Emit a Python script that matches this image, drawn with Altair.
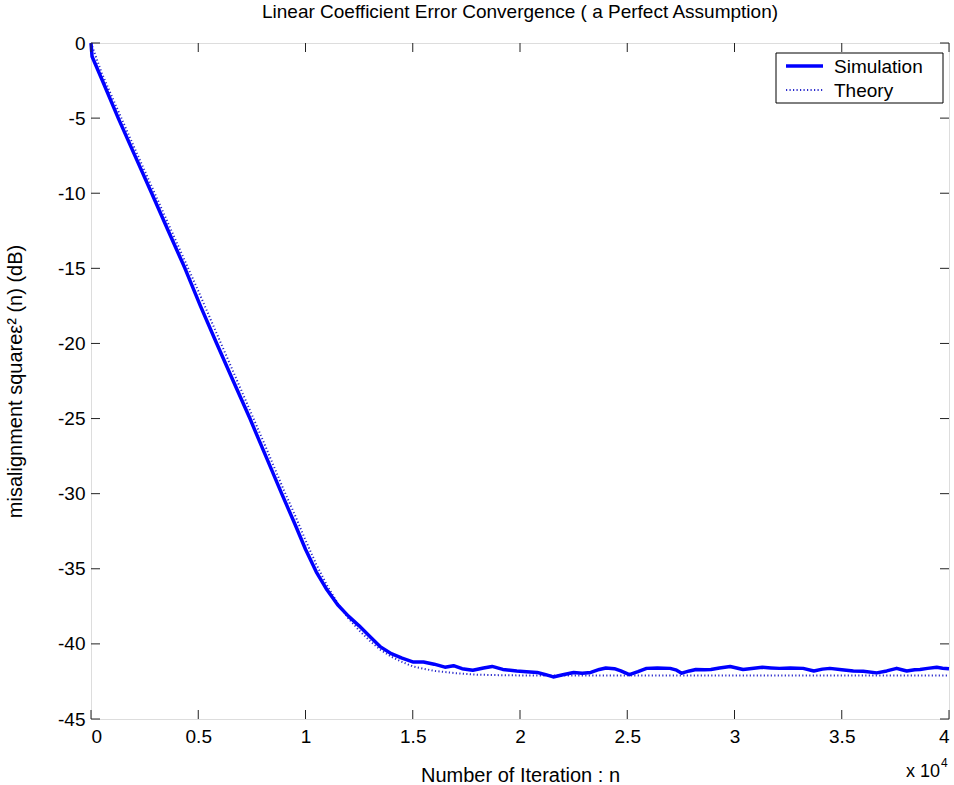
import altair as alt
import pandas as pd

# ---- data (n in units of 1e4, error in dB) ----
SIM_N = [0, 0.005, 0.05, 0.127, 0.2, 0.283, 0.36, 0.438, 0.51, 0.586, 0.66, 0.741,
         0.815, 0.889, 0.95, 1.0, 1.05, 1.1, 1.15, 1.2, 1.25, 1.3, 1.35, 1.4, 1.45,
         1.5, 1.55, 1.6, 1.65, 1.69, 1.73, 1.78, 1.83, 1.87, 1.92, 1.985, 2.03, 2.08,
         2.12, 2.155, 2.2, 2.25, 2.29, 2.33, 2.37, 2.40, 2.44, 2.47, 2.51, 2.55, 2.59,
         2.64, 2.70, 2.73, 2.754, 2.79, 2.82, 2.86, 2.89, 2.93, 2.98, 3.01, 3.04, 3.09,
         3.13, 3.17, 3.21, 3.26, 3.32, 3.37, 3.41, 3.445, 3.5, 3.554, 3.6, 3.663, 3.71,
         3.756, 3.78, 3.803, 3.84, 3.865, 3.9, 3.943, 3.97, 4.0]
SIM_DB = [0, -0.9, -2.4, -5.0, -7.35, -10.0, -12.5, -15.0, -17.5, -20.0, -22.4, -25.0,
          -27.5, -30.0, -32.0, -33.7, -35.2, -36.4, -37.4, -38.15, -38.8, -39.5, -40.2,
          -40.65, -40.95, -41.2, -41.2, -41.35, -41.55, -41.45, -41.65, -41.75, -41.6,
          -41.5, -41.7, -41.8, -41.85, -41.9, -42.05, -42.2, -42.05, -41.9, -41.95,
          -41.9, -41.7, -41.6, -41.65, -41.8, -42.05, -41.85, -41.63, -41.6, -41.63,
          -41.75, -41.95, -41.8, -41.7, -41.72, -41.7, -41.6, -41.5, -41.6, -41.7,
          -41.62, -41.56, -41.6, -41.63, -41.6, -41.63, -41.8, -41.68, -41.63, -41.72,
          -41.8, -41.82, -41.93, -41.8, -41.63, -41.72, -41.8, -41.72, -41.7, -41.63,
          -41.56, -41.62, -41.65]

THEORY_N = [0, 0.05, 0.1, 0.2, 0.3, 0.4, 0.5, 0.6, 0.7, 0.8, 0.9, 0.95, 1.0, 1.05,
            1.1, 1.15, 1.2, 1.25, 1.3, 1.35, 1.4, 1.45, 1.5, 1.6, 1.7, 1.8, 1.9, 2.0, 4.0]
THEORY_DB = [0, -2.0, -3.65, -6.9, -10.1, -13.3, -16.5, -19.8, -23.1, -26.4, -29.8,
             -31.4, -33.1, -34.7, -36.1, -37.3, -38.3, -39.1, -39.8, -40.4, -40.85,
             -41.2, -41.5, -41.8, -41.95, -42.05, -42.08, -42.1, -42.1]

SERIES = ["Simulation", "Theory"]
XTICKS = [0, 0.5, 1, 1.5, 2, 2.5, 3, 3.5, 4]
YTICKS = [0, -5, -10, -15, -20, -25, -30, -35, -40, -45]

TITLE = "Linear Coefficient Error Convergence ( a Perfect Assumption)"
XTITLE = "Number of Iteration : n"
YTITLE = "misalignment squareε² (n) (dB)"

# ---- layout ----
W, H = 858, 676
FONT = "Liberation Sans"
TL = 9  # inward tick length
SIM_COLOR = "#0000ff"
TH_COLOR = "#2a2acc"
SIM_W = 3.5
TH_W = 2
TH_DASH = [1.2, 2.3]

sim_df = pd.DataFrame({"n": SIM_N, "db": SIM_DB})
th_df = pd.DataFrame({"n": THEORY_N, "db": THEORY_DB})

xscale = alt.Scale(domain=[0, 4], nice=False, zero=False)
yscale = alt.Scale(domain=[-45, 0], nice=False, zero=False)

xaxis = alt.Axis(values=XTICKS, labelExpr="datum.value + ''", title=XTITLE, grid=False,
                 ticks=False, domain=False, labelPadding=8,
                 labelFontSize=19, labelFont=FONT, labelColor="black",
                 titleFont=FONT, titleFontSize=20, titleFontWeight="normal",
                 titleColor="black", titleY=62, titleBaseline="alphabetic")
yaxis = alt.Axis(values=YTICKS, labelExpr="datum.value + ''", title=YTITLE, grid=False,
                 ticks=False, domain=False, labelPadding=6,
                 labelFontSize=19, labelFont=FONT, labelColor="black",
                 titleFont=FONT, titleFontSize=20, titleFontWeight="normal",
                 titleColor="black", titleX=-70, titleBaseline="alphabetic")

theory = alt.Chart(th_df).mark_line(color=TH_COLOR, strokeWidth=TH_W,
                                    strokeDash=TH_DASH, strokeCap="butt").encode(
    x=alt.X("n:Q", scale=xscale, axis=xaxis),
    y=alt.Y("db:Q", scale=yscale, axis=yaxis),
)
sim = alt.Chart(sim_df).mark_line(color=SIM_COLOR, strokeWidth=SIM_W,
                                  strokeJoin="round").encode(
    x=alt.X("n:Q", scale=xscale),
    y=alt.Y("db:Q", scale=yscale),
)

xt = pd.DataFrame({"v": XTICKS})
yt = pd.DataFrame({"v": YTICKS})
tick_color = "#222222"

bottom_ticks = alt.Chart(xt).mark_rule(color=tick_color, strokeWidth=1).encode(
    x=alt.X("v:Q", scale=xscale), y=alt.value(H), y2=alt.value(H - TL))
top_ticks = alt.Chart(xt).mark_rule(color=tick_color, strokeWidth=1).encode(
    x=alt.X("v:Q", scale=xscale), y=alt.value(0), y2=alt.value(TL))
left_ticks = alt.Chart(yt).mark_rule(color=tick_color, strokeWidth=1).encode(
    y=alt.Y("v:Q", scale=yscale), x=alt.value(0), x2=alt.value(TL))
right_ticks = alt.Chart(yt).mark_rule(color=tick_color, strokeWidth=1).encode(
    y=alt.Y("v:Q", scale=yscale), x=alt.value(W), x2=alt.value(W - TL))

exp_df = pd.DataFrame({"v": [4]})
exp_base = alt.Chart(exp_df).mark_text(font=FONT, fontSize=18, color="black",
                                       align="right", baseline="alphabetic", dx=-9).encode(
    x=alt.X("v:Q", scale=xscale), y=alt.value(H + 58), text=alt.value("x 10"))
exp_sup = alt.Chart(exp_df).mark_text(font=FONT, fontSize=12, color="black",
                                      align="left", baseline="alphabetic", dx=-8).encode(
    x=alt.X("v:Q", scale=xscale), y=alt.value(H + 48), text=alt.value("4"))

one = pd.DataFrame({"k": [0]})

# ---- chart title as a text mark above the plot area ----
title_mark = alt.Chart(one).mark_text(font=FONT, fontSize=19, color="black",
                                      align="center", baseline="alphabetic").encode(
    x=alt.value(W / 2), y=alt.value(-25), text=alt.value(TITLE))

# ---- legend box (drawn as marks, top-right inside the plot) ----
LX0, LX1, LY0, LY1 = 685, 852, 10, 60
SYM_X0, SYM_X1, TXT_X = 695, 732, 743
ROW_Y = [23, 47]
leg_box = alt.Chart(one).mark_rect(fill="white", stroke="black", strokeWidth=1).encode(
    x=alt.value(LX0), x2=alt.value(LX1), y=alt.value(LY0), y2=alt.value(LY1))
leg_sim_line = alt.Chart(one).mark_rule(color=SIM_COLOR, strokeWidth=SIM_W).encode(
    x=alt.value(SYM_X0), x2=alt.value(SYM_X1), y=alt.value(ROW_Y[0]))
leg_th_line = alt.Chart(one).mark_rule(color=TH_COLOR, strokeWidth=TH_W,
                                       strokeDash=TH_DASH).encode(
    x=alt.value(SYM_X0), x2=alt.value(SYM_X1), y=alt.value(ROW_Y[1]))
leg_sim_txt = alt.Chart(one).mark_text(font=FONT, fontSize=19, color="black",
                                       align="left", baseline="middle").encode(
    x=alt.value(TXT_X), y=alt.value(ROW_Y[0] + 1), text=alt.value(SERIES[0]))
leg_th_txt = alt.Chart(one).mark_text(font=FONT, fontSize=19, color="black",
                                      align="left", baseline="middle").encode(
    x=alt.value(TXT_X), y=alt.value(ROW_Y[1] + 1), text=alt.value(SERIES[1]))

chart = alt.layer(theory, sim, bottom_ticks, top_ticks, left_ticks, right_ticks,
                  exp_base, exp_sup, title_mark, leg_box, leg_sim_line, leg_th_line,
                  leg_sim_txt, leg_th_txt).properties(
    width=W, height=H,
    autosize=alt.AutoSizeParams(type="none"),
    padding={"left": 91, "top": 43, "right": 5, "bottom": 66},
).configure_view(stroke="#222222", strokeWidth=1).configure(background="white")

chart.save("out.html", embed_options={"renderer": "svg", "actions": False})
